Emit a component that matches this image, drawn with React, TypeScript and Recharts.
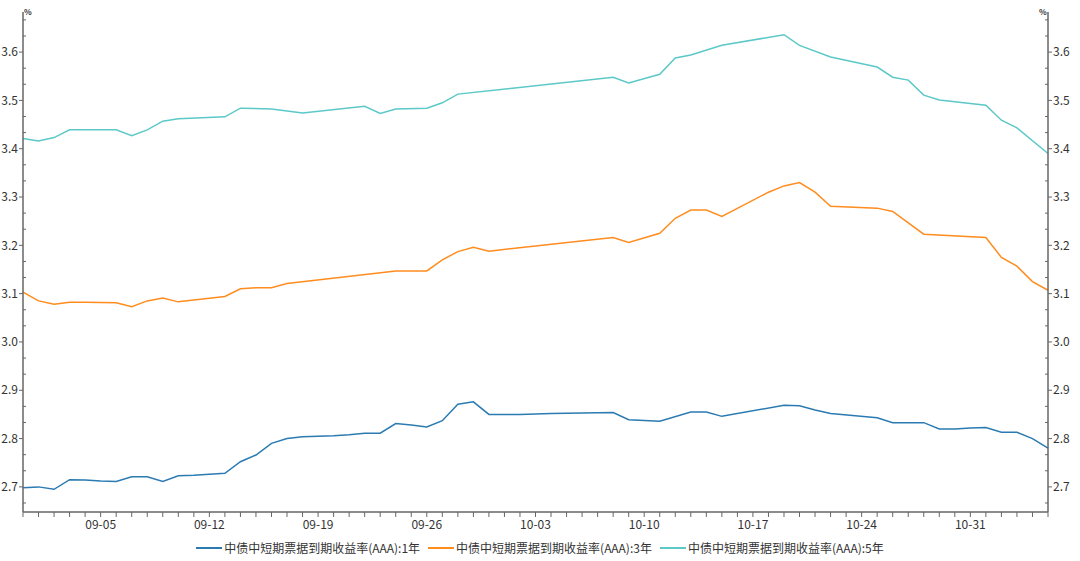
import React from 'react';
import { LineChart, Line, XAxis, YAxis } from 'recharts';

const FONT = '"Microsoft YaHei","Noto Sans CJK SC","Noto Sans",sans-serif';

// x = day offset from 08-31
const xTickDays = [5, 12, 19, 26, 33, 40, 47, 54, 61];
const xTickLabels = ['09-05', '09-12', '09-19', '09-26', '10-03', '10-10', '10-17', '10-24', '10-31'];

const seriesNames = [
  '中债中短期票据到期收益率(AAA):1年',
  '中债中短期票据到期收益率(AAA):3年',
  '中债中短期票据到期收益率(AAA):5年',
];
const colors = ['#2b7bb2', '#ff8c1f', '#5cc8c8'];

const oneYearDays = [0, 1, 2, 3, 4, 5, 6, 7, 8, 9, 10, 11, 12, 13, 14, 15, 16, 17, 18, 19, 20, 21, 22, 23, 24, 25, 26, 27, 28, 29, 30, 32, 34, 36, 38, 39, 41, 43, 44, 45, 49, 50, 51, 52, 55, 56, 58, 59, 60, 61, 62, 63, 64, 65, 66];
const oneYear = [2.698, 2.700, 2.695, 2.715, 2.714, 2.712, 2.711, 2.721, 2.721, 2.711, 2.723, 2.724, 2.726, 2.728, 2.752, 2.766, 2.790, 2.800, 2.804, 2.805, 2.806, 2.808, 2.811, 2.811, 2.831, 2.828, 2.824, 2.837, 2.871, 2.876, 2.850, 2.850, 2.852, 2.853, 2.854, 2.839, 2.836, 2.855, 2.855, 2.846, 2.869, 2.868, 2.859, 2.852, 2.843, 2.833, 2.833, 2.820, 2.820, 2.822, 2.823, 2.813, 2.813, 2.800, 2.780];

const threeYearDays = [0, 1, 2, 3, 4, 6, 7, 8, 9, 10, 13, 14, 15, 16, 17, 24, 26, 27, 28, 29, 30, 38, 39, 41, 42, 43, 44, 45, 48, 49, 50, 51, 52, 55, 56, 58, 62, 63, 64, 65, 66];
const threeYear = [3.103, 3.085, 3.078, 3.082, 3.082, 3.081, 3.073, 3.085, 3.091, 3.083, 3.094, 3.110, 3.112, 3.112, 3.121, 3.147, 3.147, 3.170, 3.187, 3.196, 3.188, 3.216, 3.206, 3.225, 3.256, 3.273, 3.273, 3.260, 3.310, 3.323, 3.330, 3.310, 3.281, 3.277, 3.270, 3.223, 3.216, 3.175, 3.157, 3.125, 3.107];

const fiveYearDays = [0, 1, 2, 3, 6, 7, 8, 9, 10, 13, 14, 16, 18, 22, 23, 24, 26, 27, 28, 38, 39, 41, 42, 43, 45, 49, 50, 52, 55, 56, 57, 58, 59, 62, 63, 64, 66];
const fiveYear = [3.421, 3.416, 3.423, 3.439, 3.439, 3.427, 3.439, 3.457, 3.462, 3.466, 3.484, 3.482, 3.474, 3.488, 3.473, 3.482, 3.484, 3.495, 3.513, 3.548, 3.536, 3.554, 3.588, 3.594, 3.614, 3.636, 3.614, 3.590, 3.569, 3.548, 3.542, 3.511, 3.501, 3.490, 3.459, 3.443, 3.390];

const yDomain = [2.648, 3.683];
const yMajorTicks = [2.7, 2.8, 2.9, 3.0, 3.1, 3.2, 3.3, 3.4, 3.5, 3.6];

const build = (days: number[], vals: number[]) => days.map((d, i) => ({ day: d, v: vals[i] }));
const series = [build(oneYearDays, oneYear), build(threeYearDays, threeYear), build(fiveYearDays, fiveYear)];

const xTicks = Array.from({ length: 67 }, (_, i) => i);
const yTicks = Array.from({ length: 31 }, (_, i) => (80 + i) / 30);

const AXIS = '#666';
const TXT = '#333';

const isMajor = (v: number) => yMajorTicks.some((m) => Math.abs(m - v) < 1e-6);

const YTick = (props: any) => {
  const { x, y, payload, side } = props;
  const v = payload.value;
  const dir = side === 'left' ? -1 : 1;
  if (isMajor(v)) {
    return (
      <g>
        <line x1={x} x2={x + dir * 4} y1={y} y2={y} stroke={AXIS} strokeWidth={1} />
        <text x={x + dir * 5} y={y} dy="0.35em" textAnchor={side === 'left' ? 'end' : 'start'} fontSize={12} fill={TXT} fontFamily={FONT}>
          {v.toFixed(1)}
        </text>
      </g>
    );
  }
  return <line x1={x} x2={x - dir * 3} y1={y} y2={y} stroke={AXIS} strokeWidth={1} />;
};

const xFmt = (d: number) => {
  const i = xTickDays.indexOf(d);
  return i >= 0 ? xTickLabels[i] : '';
};

export default function App() {
  return (
    <div style={{ position: 'absolute', left: 0, top: 0, width: 1080, height: 561, background: '#fff', fontFamily: FONT }}>
      <LineChart width={1080} height={561} margin={{ top: 12, right: 0, left: 0, bottom: 24 }}>
        <XAxis
          dataKey="day"
          type="number"
          domain={[0, 66]}
          ticks={xTicks}
          interval={0}
          tickFormatter={xFmt}
          allowDuplicatedCategory={false}
          height={25}
          tickSize={5}
          tickMargin={3}
          stroke={AXIS}
          axisLine={{ stroke: AXIS, strokeWidth: 1.5 }}
          tickLine={{ stroke: AXIS }}
          tick={{ fontSize: 12, fill: TXT, fontFamily: FONT }}
        />
        <YAxis
          yAxisId="left"
          orientation="left"
          width={23}
          domain={yDomain}
          ticks={yTicks}
          interval={0}
          allowDataOverflow
          tickSize={0}
          tickMargin={0}
          tickLine={false}
          axisLine={{ stroke: AXIS, strokeWidth: 1.5 }}
          tick={(p: any) => <YTick {...p} side="left" />}
        />
        <YAxis
          yAxisId="right"
          orientation="right"
          width={32}
          domain={yDomain}
          ticks={yTicks}
          interval={0}
          allowDataOverflow
          tickSize={0}
          tickMargin={0}
          tickLine={false}
          axisLine={{ stroke: AXIS, strokeWidth: 1.5 }}
          tick={(p: any) => <YTick {...p} side="right" />}
        />
        {series.map((data, i) => (
          <Line
            key={i}
            yAxisId="left"
            data={data}
            dataKey="v"
            name={seriesNames[i]}
            type="linear"
            stroke={colors[i]}
            strokeWidth={1.5}
            dot={false}
            activeDot={false}
            isAnimationActive={false}
          />
        ))}
        <Line
          yAxisId="right"
          data={series[2]}
          dataKey="v"
          stroke="transparent"
          dot={false}
          activeDot={false}
          legendType="none"
          isAnimationActive={false}
        />
      </LineChart>
      <span style={{ position: 'absolute', left: 24, top: 6, fontSize: 8, fontWeight: 'bold', color: TXT }}>%</span>
      <span style={{ position: 'absolute', left: 1039, top: 6, fontSize: 8, fontWeight: 'bold', color: TXT }}>%</span>
      <div style={{ position: 'absolute', left: 0, top: 540, width: 1080, display: 'flex', justifyContent: 'center', alignItems: 'center', gap: 8 }}>
        {seriesNames.map((n, i) => (
          <div key={i} style={{ display: 'flex', alignItems: 'center' }}>
            <svg width={26} height={16} style={{ display: 'block' }}>
              <line x1={0} x2={26} y1={8} y2={8} stroke={colors[i]} strokeWidth={2} />
            </svg>
            <span style={{ fontSize: 12, color: TXT, marginLeft: 2, lineHeight: '16px', whiteSpace: 'nowrap' }}>{n}</span>
          </div>
        ))}
      </div>
    </div>
  );
}
